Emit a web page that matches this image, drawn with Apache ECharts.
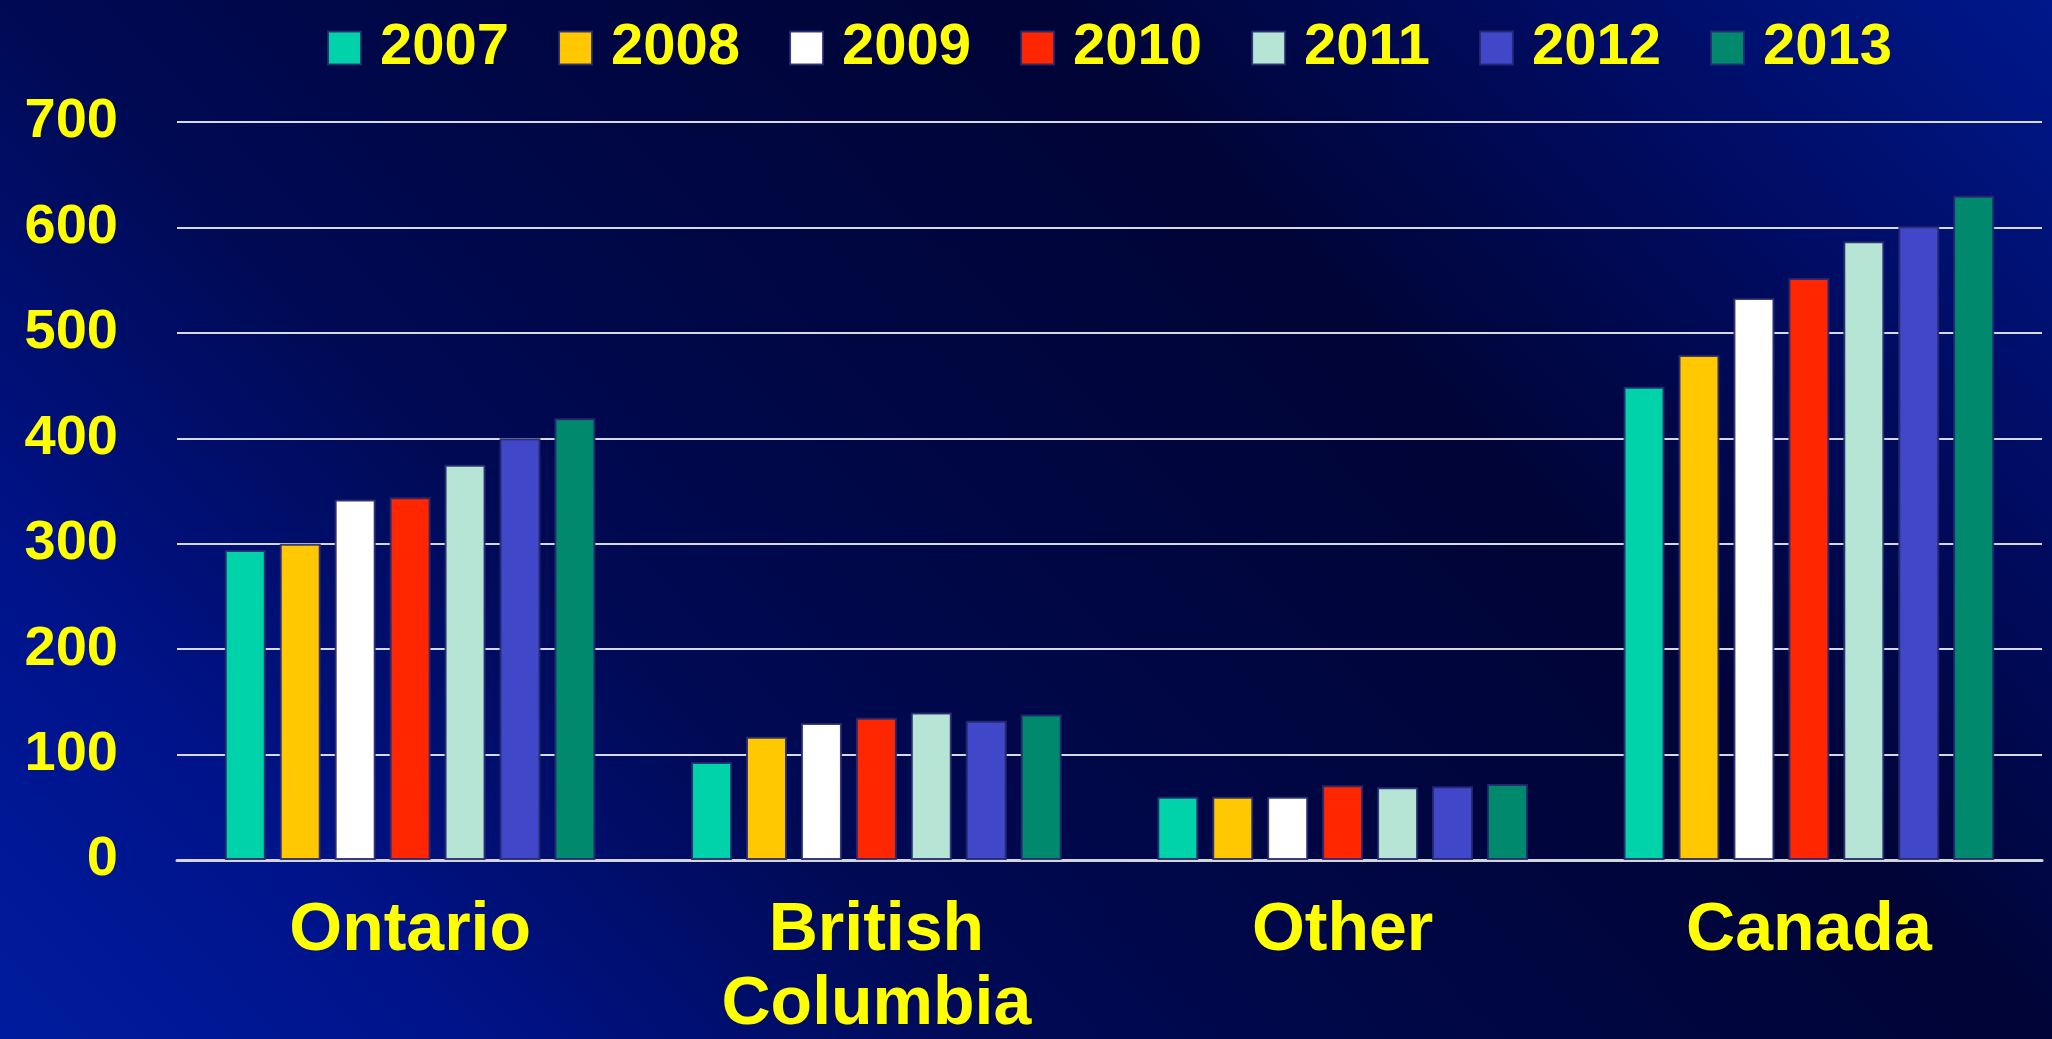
<!DOCTYPE html>
<html>
<head>
<meta charset="utf-8">
<title>2007–2013 by region</title>
<script src="https://cdn.jsdelivr.net/npm/echarts@6/dist/echarts.min.js"></script>
<style>
  html, body { margin: 0; padding: 0; width: 2052px; height: 1039px; overflow: hidden; }
  body {
    background:
      linear-gradient(46deg,
        #001c9e 0%, #00138a 15%, #000a54 33%, #000642 50%,
        #000436 67%, #000b5e 82%, #00188c 100%);
  }
  #chart { width: 2052px; height: 1039px; }
</style>
</head>
<body>
<div id="chart"></div>
<script>
// Regions shown along the x axis
const regions = ['Ontario', 'British\nColumbia', 'Other', 'Canada'];

// One series per year
const years = ['2007', '2008', '2009', '2010', '2011', '2012', '2013'];

// Values per year, in region order
const v2007 = [294, 93, 60, 449];
const v2008 = [300, 117, 60, 479];
const v2009 = [342, 130, 60, 533];
const v2010 = [344, 135, 71, 552];
const v2011 = [375, 140, 69, 587];
const v2012 = [400, 132, 70, 601];
const v2013 = [419, 138, 72, 630];

// Y axis range
const yMin = 0;
const yMax = 700;
const yStep = 100;

const yearValues = [v2007, v2008, v2009, v2010, v2011, v2012, v2013];
const yearColors = ['#00d3aa', '#ffc800', '#ffffff', '#ff2600', '#b6e5d5', '#4047c8', '#00896d'];

const FONT = '"Liberation Sans", Arial, sans-serif';
const YELLOW = '#ffff00';

const chart = echarts.init(document.getElementById('chart'), null, { renderer: 'canvas' });

const series = years.map((y, i) => ({
  name: y,
  type: 'bar',
  data: yearValues[i],
  barWidth: 41,
  barGap: '34%',
  itemStyle: {
    color: yearColors[i],
    borderColor: 'rgba(38, 40, 112, 0.9)',
    borderWidth: 2
  },
  emphasis: { disabled: true }
}));

chart.setOption({
  backgroundColor: 'transparent',
  animation: false,
  legend: {
    data: years,
    left: 322,
    top: 14,
    icon: 'rect',
    itemWidth: 33,
    itemHeight: 33,
    itemGap: 49,
    textStyle: {
      color: YELLOW,
      fontFamily: FONT,
      fontWeight: 'bold',
      fontSize: 58,
      padding: [0, 0, 0, 14]
    }
  },
  grid: {
    left: 177,
    right: 10,
    top: 122,
    bottom: 179,
    containLabel: false,
    outerBoundsMode: 'none'
  },
  xAxis: {
    type: 'category',
    data: regions,
    axisTick: { show: false },
    axisLine: { show: true, lineStyle: { color: '#d4d4dc', width: 3 } },
    axisLabel: {
      color: YELLOW,
      fontFamily: FONT,
      fontWeight: 'bold',
      fontSize: 68,
      lineHeight: 74,
      margin: 34,
      interval: 0
    }
  },
  yAxis: {
    type: 'value',
    min: yMin,
    max: yMax,
    interval: yStep,
    axisLine: { show: false },
    axisTick: { show: false },
    splitLine: { show: true, lineStyle: { color: '#d8d8e0', width: 2 } },
    axisLabel: {
      color: YELLOW,
      fontFamily: FONT,
      fontWeight: 'bold',
      fontSize: 56,
      margin: 59,
      padding: [8, 0, 0, 0]
    }
  },
  series: series
});
</script>
</body>
</html>
